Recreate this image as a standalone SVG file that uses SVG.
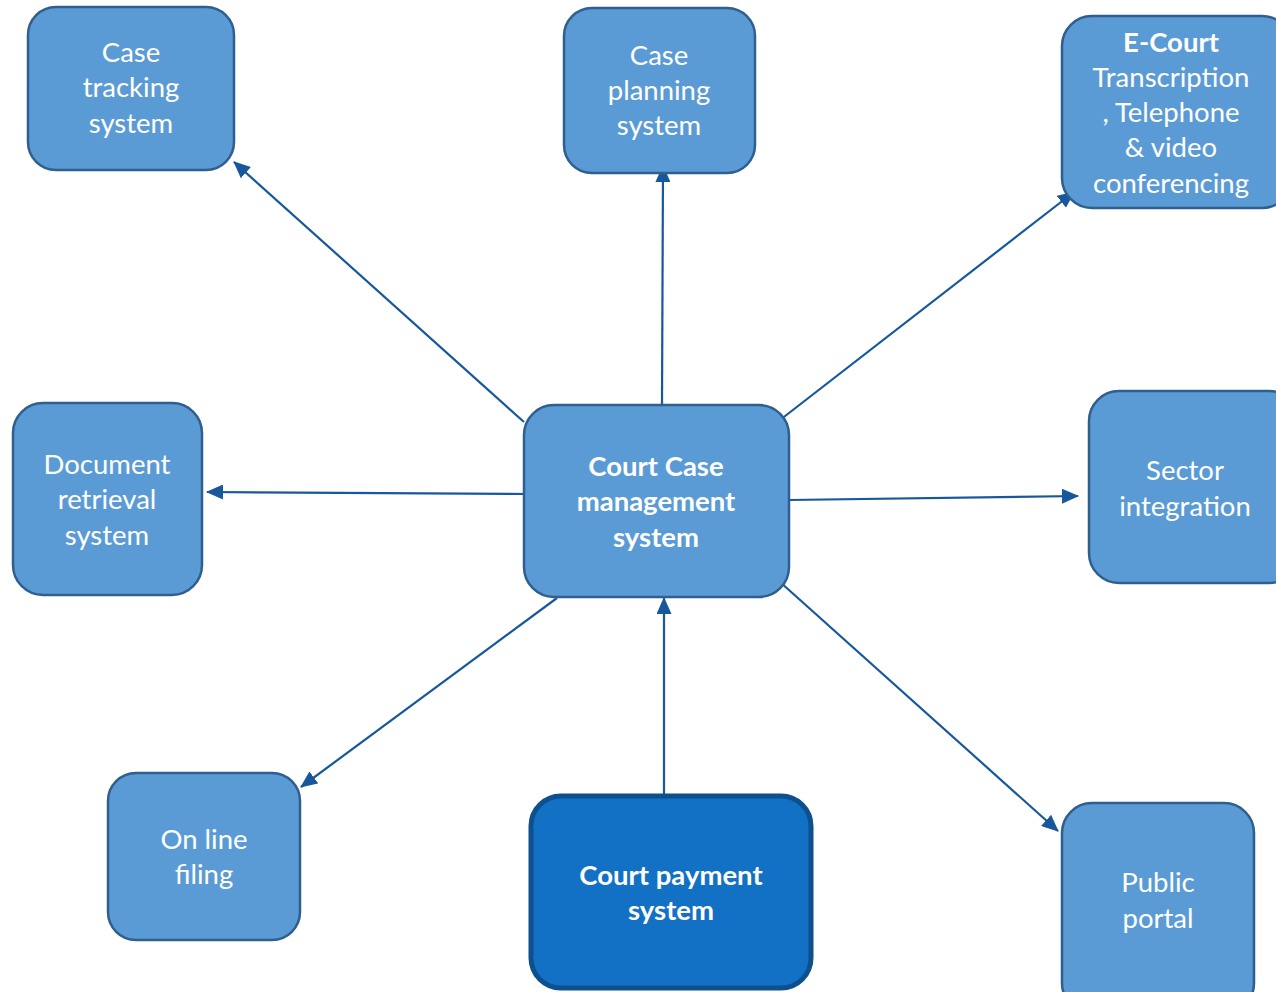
<svg xmlns="http://www.w3.org/2000/svg" width="1276" height="992" viewBox="0 0 1276 992">
<defs>
<style>
.box{fill:#5B9BD5;stroke:#2F5F8F;stroke-width:2.5}
.pay{fill:#1270C5;stroke:#0E4F8E;stroke-width:5}
.t{font-family:Lato,"Open Sans","Liberation Sans",sans-serif;font-size:27.5px;fill:#FFFFFF;text-anchor:middle}
.b{font-weight:bold}
.c{stroke:#17589C;stroke-width:2.2;fill:none;marker-end:url(#ah)}
</style>
<marker id="ah" markerUnits="userSpaceOnUse" markerWidth="17" markerHeight="15" refX="16" refY="7.5" orient="auto">
<path d="M0,0 L17,7.5 L0,15 Z" fill="#17589C"/>
</marker>
</defs>
<rect width="1276" height="992" fill="#FFFFFF"/>
<g id="connectors">
<line class="c" x1="524" y1="422" x2="234" y2="162"/>
<line class="c" x1="662" y1="405" x2="663" y2="166"/>
<line class="c" x1="780" y1="420" x2="1074" y2="192"/>
<line class="c" x1="530" y1="494" x2="207" y2="492"/>
<line class="c" x1="789" y1="500" x2="1078" y2="496"/>
<line class="c" x1="557" y1="598" x2="301" y2="787"/>
<line class="c" x1="664" y1="795" x2="664" y2="598"/>
<line class="c" x1="780" y1="582" x2="1058" y2="831"/>
</g>
<g id="case-tracking">
<rect class="box" x="28" y="7" width="206" height="163" rx="28"/>
<text class="t" x="131" y="62">Case</text>
<text class="t" x="131" y="97">tracking</text>
<text class="t" x="131" y="133">system</text>
</g>
<g id="case-planning">
<rect class="box" x="564" y="8" width="191" height="165" rx="28"/>
<text class="t" x="659" y="65">Case</text>
<text class="t" x="659" y="100">planning</text>
<text class="t" x="659" y="135">system</text>
</g>
<g id="e-court">
<rect class="box" x="1062" y="16" width="230" height="192" rx="30"/>
<text class="t b" x="1171" y="52">E-Court</text>
<text class="t" x="1171" y="87">Transcription</text>
<text class="t" x="1171" y="122">, Telephone</text>
<text class="t" x="1171" y="157">&amp; video</text>
<text class="t" x="1171" y="193">conferencing</text>
</g>
<g id="document-retrieval">
<rect class="box" x="13" y="403" width="189" height="192" rx="30"/>
<text class="t" x="107" y="474">Document</text>
<text class="t" x="107" y="509">retrieval</text>
<text class="t" x="107" y="545">system</text>
</g>
<g id="court-case-management">
<rect class="box" x="524" y="405" width="265" height="192" rx="30"/>
<text class="t b" x="656" y="476">Court Case</text>
<text class="t b" x="656" y="511">management</text>
<text class="t b" x="656" y="547">system</text>
</g>
<g id="sector-integration">
<rect class="box" x="1089" y="391" width="210" height="192" rx="30"/>
<text class="t" x="1185" y="480">Sector</text>
<text class="t" x="1185" y="516">integration</text>
</g>
<g id="online-filing">
<rect class="box" x="108" y="773" width="192" height="167" rx="28"/>
<text class="t" x="204" y="849">On line</text>
<text class="t" x="204" y="884">filing</text>
</g>
<g id="court-payment">
<rect class="pay" x="531" y="796" width="280" height="192" rx="30"/>
<text class="t b" x="671" y="885">Court payment</text>
<text class="t b" x="671" y="920">system</text>
</g>
<g id="public-portal">
<rect class="box" x="1062" y="803" width="192" height="210" rx="30"/>
<text class="t" x="1158" y="892">Public</text>
<text class="t" x="1158" y="928">portal</text>
</g>
</svg>
